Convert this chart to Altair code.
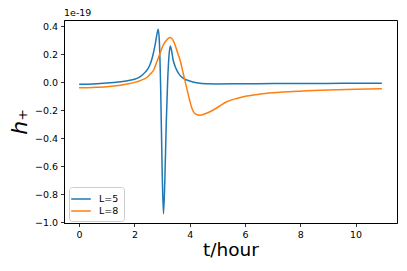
import altair as alt
import pandas as pd

# L=5 series (t in hours, h+ in units of 1e-19)
t5 = [0.0, 0.5, 1.0, 1.5, 1.8, 2.0, 2.2, 2.4, 2.55, 2.65, 2.75, 2.82, 2.86,
      2.90, 2.95, 3.0, 3.05, 3.10, 3.15, 3.20, 3.25, 3.30, 3.35, 3.40, 3.47,
      3.53, 3.65, 3.77, 4.0, 4.3, 4.6, 5.0, 6.0, 7.0, 8.0, 9.0, 10.0, 10.95]
h5 = [-0.014, -0.011, -0.005, 0.005, 0.013, 0.022, 0.040, 0.075, 0.12, 0.18,
      0.27, 0.35, 0.38, 0.30, -0.05, -0.60, -0.94, -0.70, -0.30, 0.0, 0.19,
      0.26, 0.22, 0.16, 0.115, 0.088, 0.05, 0.029, 0.01, -0.005, -0.010,
      -0.011, -0.010, -0.009, -0.008, -0.0075, -0.007, -0.006]

# L=8 series
t8 = [0.0, 0.5, 1.0, 1.5, 1.8, 2.0, 2.2, 2.45, 2.6, 2.7, 2.8, 2.93, 3.05,
      3.15, 3.29, 3.40, 3.50, 3.58, 3.65, 3.77, 3.89, 4.0, 4.07, 4.2, 4.37,
      4.55, 4.73, 5.0, 5.34, 5.7, 6.06, 6.54, 7.0, 8.0, 9.0, 10.0, 10.95]
h8 = [-0.039, -0.036, -0.031, -0.020, -0.010, 0.0, 0.012, 0.035, 0.065, 0.09,
      0.14, 0.21, 0.27, 0.30, 0.32, 0.30, 0.25, 0.20, 0.16, 0.06, -0.04,
      -0.13, -0.18, -0.225, -0.235, -0.225, -0.21, -0.18, -0.139, -0.115,
      -0.098, -0.084, -0.075, -0.063, -0.055, -0.050, -0.046]

series = ["L=5", "L=8"]
colors = ["#1f77b4", "#ff7f0e"]
x_ticks = [0, 2, 4, 6, 8, 10]
y_ticks = [-1.0, -0.8, -0.6, -0.4, -0.2, 0.0, 0.2, 0.4]

df = pd.concat([
    pd.DataFrame({"t": t5, "h": h5, "series": series[0], "order": 0}),
    pd.DataFrame({"t": t8, "h": h8, "series": series[1], "order": 1}),
])

FONT = "DejaVu Sans"

chart = alt.Chart(df).mark_line(strokeWidth=1.5, interpolate="monotone").encode(
    x=alt.X("t:Q",
            scale=alt.Scale(domain=[-0.5475, 11.4975], nice=False, zero=False),
            axis=alt.Axis(values=x_ticks, title="t/hour", format="d",
                          titleFontSize=18.5, titleFontWeight="normal",
                          titlePadding=1)),
    y=alt.Y("h:Q",
            scale=alt.Scale(domain=[-1.006, 0.446], nice=False, zero=False),
            axis=alt.Axis(values=y_ticks, title="h₊",
                          labelExpr="replace(format(datum.value, '.1f'), '-', '\u2212')",
                          titleFontSize=22, titleFontWeight="normal",
                          titleFontStyle="italic", titlePadding=3)),
    color=alt.Color("series:N",
                    scale=alt.Scale(domain=series, range=colors),
                    legend=alt.Legend(title=None, orient="none",
                                      legendX=5, legendY=167,
                                      symbolType="M-1.6,0L1.6,0",
                                      symbolSize=150, symbolStrokeWidth=1.5,
                                      labelOffset=11, labelFontSize=9.5,
                                      labelFont=FONT, labelColor="black",
                                      rowPadding=0,
                                      padding=5, strokeColor="#cccccc",
                                      fillColor="white", cornerRadius=3)),
    order="order:Q",
).properties(
    width=333, height=203,
    background="white",
    title=alt.TitleParams("1e-19", anchor="start", frame="group",
                          fontSize=9.5, fontWeight="normal", font=FONT,
                          offset=3, color="black"),
    autosize=alt.AutoSizeParams(type="none"),
    padding={"left": 56, "top": 12, "right": 2, "bottom": 40},
).configure_view(
    stroke="black", strokeWidth=1
).configure_axis(
    grid=False, domainColor="black", tickColor="black", tickSize=3.5,
    tickWidth=0.8, domainWidth=0.8, labelFontSize=9.5, labelFont=FONT,
    titleFont=FONT, labelColor="black", titleColor="black", labelPadding=3
)

chart.save("out.html", embed_options={"renderer": "svg", "actions": False})
